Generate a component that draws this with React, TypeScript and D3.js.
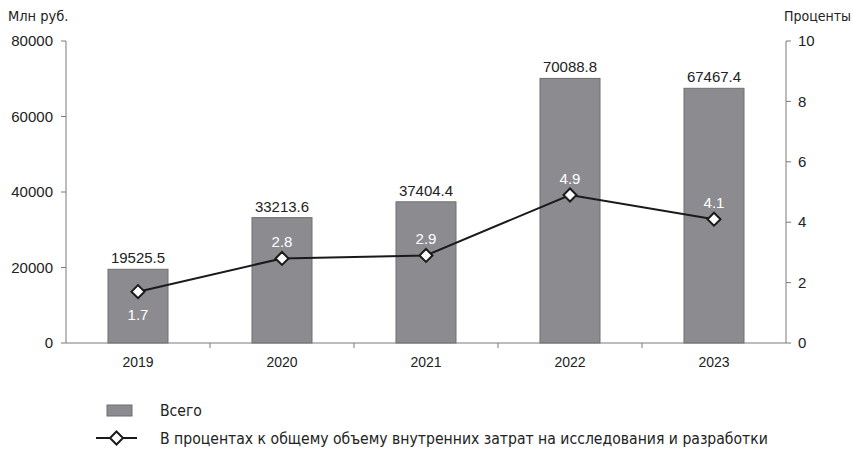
import * as d3 from "d3";

const years = ["2019", "2020", "2021", "2022", "2023"];
const totals = [19525.5, 33213.6, 37404.4, 70088.8, 67467.4];
const shares = [1.7, 2.8, 2.9, 4.9, 4.1];
const leftTicks = [0, 20000, 40000, 60000, 80000];
const rightTicks = [0, 2, 4, 6, 8, 10];
// percent label below the marker only for the first point
const shareBelow = [true, false, false, false, false];

const W = 853;
const H = 454;
const margin = { top: 41, right: 67, bottom: 111, left: 66 };

const App = () => {
  const innerW = W - margin.left - margin.right;
  const innerH = H - margin.top - margin.bottom;

  const x = d3.scaleBand().domain(years).range([0, innerW]).paddingInner(0).paddingOuter(0);
  const yL = d3.scaleLinear().domain([0, 80000]).range([innerH, 0]);
  const yR = d3.scaleLinear().domain([0, 10]).range([innerH, 0]);
  const barW = 60;

  const line = d3
    .line<number>()
    .x((d, i) => (x(years[i]) as number) + x.bandwidth() / 2)
    .y((d) => yR(d));

  const diamond = (cx: number, cy: number, r: number) =>
    `M${cx},${cy - r}L${cx + r},${cy}L${cx},${cy + r}L${cx - r},${cy}Z`;

  const axisColor = "#7a7a7a";
  const numFont = "'Liberation Sans Narrow', 'Liberation Sans', Arial, sans-serif";
  const yearFont = "'Liberation Sans', Arial, sans-serif";
  const txtFont = "'DejaVu Sans Condensed', 'DejaVu Sans', sans-serif";

  return (
    <svg
      width={W}
      height={H}
      style={{ position: "absolute", left: 0, top: 0, background: "#fff" }}
    >
      <text x={8} y={21} fontFamily={txtFont} fontSize={14.5} fill="#222">
        Млн руб.
      </text>
      <text x={784} y={21} fontFamily={txtFont} fontSize={14} fill="#222">
        Проценты
      </text>
      <g transform={`translate(${margin.left},${margin.top})`}>
        {/* bars */}
        {years.map((yr, i) => {
          const cx = (x(yr) as number) + x.bandwidth() / 2;
          return (
            <g key={yr}>
              <rect
                x={cx - barW / 2}
                y={yL(totals[i])}
                width={barW}
                height={innerH - yL(totals[i])}
                fill="#8c8c90"
                stroke="#6f6f72"
                strokeWidth={1}
              />
              <text
                x={cx}
                y={yL(totals[i]) - 6}
                textAnchor="middle"
                fontFamily={numFont}
                fontSize={15}
                fill="#222"
              >
                {totals[i].toFixed(1)}
              </text>
              <text
                x={cx}
                y={innerH + 24}
                textAnchor="middle"
                fontFamily={yearFont}
                fontSize={14}
                fill="#222"
              >
                {yr}
              </text>
            </g>
          );
        })}

        {/* left axis */}
        <line x1={0} x2={0} y1={0} y2={innerH} stroke={axisColor} />
        {leftTicks.map((t) => (
          <g key={t} transform={`translate(0,${yL(t)})`}>
            <line x1={-5} x2={0} stroke={axisColor} />
            <text
              x={-13}
              dy="0.35em"
              textAnchor="end"
              fontFamily={numFont}
              fontSize={15}
              fill="#222"
            >
              {t}
            </text>
          </g>
        ))}

        {/* right axis */}
        <line x1={innerW} x2={innerW} y1={0} y2={innerH} stroke={axisColor} />
        {rightTicks.map((t) => (
          <g key={t} transform={`translate(${innerW},${yR(t)})`}>
            <line x1={0} x2={5} stroke={axisColor} />
            <text
              x={12}
              dy="0.35em"
              textAnchor="start"
              fontFamily={numFont}
              fontSize={15}
              fill="#222"
            >
              {t}
            </text>
          </g>
        ))}

        {/* x axis */}
        <line x1={0} x2={innerW} y1={innerH} y2={innerH} stroke={axisColor} />
        {years.slice(1).map((yr) => (
          <line
            key={yr}
            x1={x(yr) as number}
            x2={x(yr) as number}
            y1={innerH}
            y2={innerH + 5}
            stroke={axisColor}
          />
        ))}

        {/* share line */}
        <path d={line(shares) || ""} fill="none" stroke="#1a1a1a" strokeWidth={2} />
        {shares.map((s, i) => {
          const cx = (x(years[i]) as number) + x.bandwidth() / 2;
          const cy = yR(s);
          return (
            <g key={i}>
              <path d={diamond(cx, cy, 6.5)} fill="#fff" stroke="#1a1a1a" strokeWidth={2} />
              <text
                x={cx}
                y={shareBelow[i] ? cy + 28 : cy - 11}
                textAnchor="middle"
                fontFamily={numFont}
                fontSize={15}
                fill="#fff"
              >
                {s.toFixed(1)}
              </text>
            </g>
          );
        })}
      </g>

      {/* legend */}
      <rect x={107} y={405} width={25} height={11} fill="#8c8c90" stroke="#6f6f72" />
      <text x={160} y={416} fontFamily={txtFont} fontSize={15.6} fill="#222">
        Всего
      </text>
      <line x1={96} x2={137} y1={438} y2={438} stroke="#1a1a1a" strokeWidth={2} />
      <path d={diamond(116.5, 438, 6.5)} fill="#fff" stroke="#1a1a1a" strokeWidth={2} />
      <text x={160} y={444} fontFamily={txtFont} fontSize={15.6} fill="#222">
        В процентах к общему объему внутренних затрат на исследования и разработки
      </text>
    </svg>
  );
};

export default App;
